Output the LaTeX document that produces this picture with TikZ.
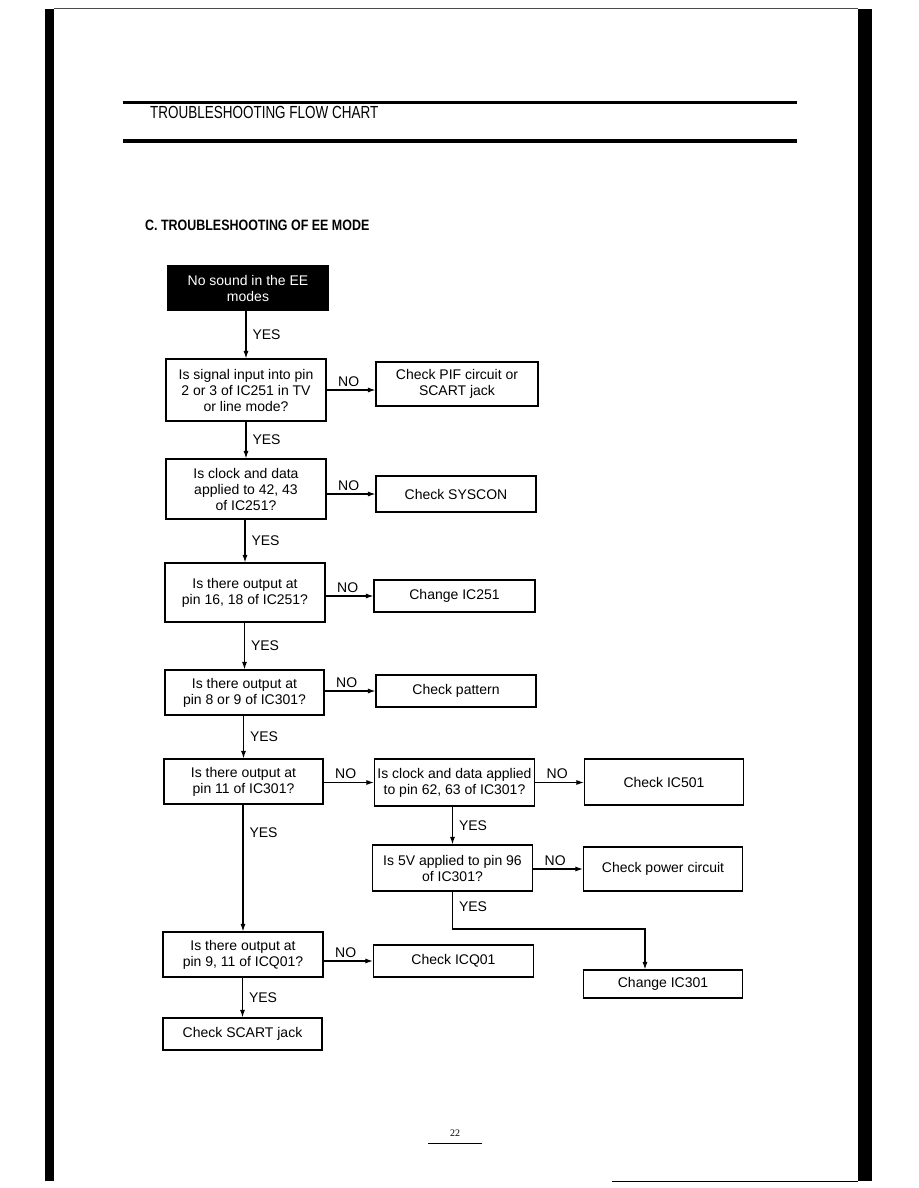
\documentclass[tikz,border=0pt]{standalone}
\usepackage{fontspec}
\setmainfont{Liberation Sans}
\newfontfamily\pagenumfont{Liberation Serif}
\usetikzlibrary{arrows.meta,calc}

\begin{document}
\begin{tikzpicture}[
  x=1pt, y=-1pt,
  box/.style={
    draw, rectangle, line width=1.2pt, minimum width=160pt, inner sep=0pt,
    align=center, font=\fontsize{14}{16}\selectfont
  },
  startbox/.style={box, fill=black, text=white},
  arrow/.style={->, >={Latex[length=7.5pt,width=5pt]}, line width=1.1pt},
  yes/.style={right, inner xsep=6pt, font=\fontsize{14}{16}\selectfont},
  no/.style={above right, pos=0, xshift=8pt, inner sep=3pt, font=\fontsize{14}{16}\selectfont}
]
\useasboundingbox (0,0) rectangle (918,1188);

% Page frame of the scan
\fill (45,9) rectangle (54,1181);
\fill (858,9) rectangle (872,1181);
\draw[line width=1pt, black!70] (54,9) -- (858,9);
\draw[line width=1pt] (612,1181) -- (858,1181);

% Header
\draw[line width=3pt] (123,103) -- (797,103);
\draw[line width=3.5pt] (123,141) -- (797,141);
\node[anchor=west, inner sep=0pt] (head) at (150,112)
  {\fontsize{17.5}{19}\selectfont\scalebox{0.77}[1]{TROUBLESHOOTING FLOW CHART}};

% Section title
\node[anchor=west, inner sep=0pt] (title) at (145,225)
  {\fontsize{15}{17}\selectfont\bfseries\scalebox{0.83}[1]{C. TROUBLESHOOTING OF EE MODE}};

% Main column
\node[startbox, minimum height=44pt] (start) at (248,288)
  {No sound in the EE\\modes};
\node[box, minimum height=62pt] (b1) at (246,390)
  {Is signal input into pin\\2 or 3 of IC251 in TV\\or line mode?};
\node[box, minimum height=60pt] (b2) at (246,489)
  {Is clock and data\\applied to 42, 43\\of IC251?};
\node[box, minimum height=59pt] (b3) at (245,592.5)
  {Is there output at\\pin 16, 18 of IC251?};
\node[box, minimum width=159pt, minimum height=45pt] (b4) at (244.5,692.5)
  {Is there output at\\pin 8 or 9 of IC301?};
\node[box, minimum width=159pt, minimum height=45pt] (b5) at (243.5,781.5)
  {Is there output at\\pin 11 of IC301?};
\node[box, minimum height=45pt] (b8) at (243,954.5)
  {Is there output at\\pin 9, 11 of ICQ01?};
\node[box, minimum width=159pt, minimum height=32pt] (n10) at (242.5,1034)
  {Check SCART jack};

% NO branches
\node[box, minimum width=162pt, minimum height=44pt] (n1) at (457,384)
  {Check PIF circuit or\\SCART jack};
\node[box, minimum height=36pt] (n2) at (456,494) {Check SYSCON};
\node[box, minimum width=161pt, minimum height=32pt] (n3) at (454.5,596) {Change IC251};
\node[box, minimum height=32pt] (n4) at (456,691) {Check pattern};
\node[box, minimum height=47pt] (b6) at (454.5,782.5)
  {Is clock and data applied\\to pin 62, 63 of IC301?};
\node[box, minimum height=46pt] (b7) at (452.5,868)
  {Is 5V applied to pin 96\\of IC301?};
\node[box, minimum height=32pt] (n9) at (453.5,961) {Check ICQ01};

% Right column
\node[box, minimum width=159pt, minimum height=46pt] (n6) at (664,782) {Check IC501};
\node[box, minimum width=159pt, minimum height=44pt] (n7) at (663,869) {Check power circuit};
\node[box, minimum width=159pt, minimum height=28pt] (n8) at (663,984) {Change IC301};
\coordinate (elbow) at (645,929);

% YES arrows
\draw[arrow] (start.south -| b1.north) -- (b1.north) node[midway, yes] {YES};
\draw[arrow] (b1.south) -- (b2.north) node[midway, yes] {YES};
\draw[arrow] (b2.south -| b3.north) -- (b3.north) node[midway, yes] {YES};
\draw[arrow] (b3.south -| b4.north) -- (b4.north) node[midway, yes] {YES};
\draw[arrow] (b4.south -| b5.north) -- (b5.north) node[midway, yes] {YES};
\draw[arrow] (b5.south -| b8.north) -- (b8.north) node[pos=0.22, yes] {YES};
\draw[arrow] (b8.south -| n10.north) -- (n10.north) node[midway, yes] {YES};
\draw[arrow] (b6.south -| b7.north) -- (b7.north) node[midway, yes] {YES};
\draw[arrow] (b7.south) |- (elbow) node[pos=0.2, yes] {YES} -- (elbow |- n8.north);

% NO arrows
\draw[arrow] (b1.east) -- (b1.east -| n1.west) node[no] {NO};
\draw[arrow] (n2.west -| b2.east) -- (n2.west) node[no] {NO};
\draw[arrow] (n3.west -| b3.east) -- (n3.west) node[no] {NO};
\draw[arrow] (n4.west -| b4.east) -- (n4.west) node[no] {NO};
\draw[arrow] (b6.west -| b5.east) -- (b6.west) node[no] {NO};
\draw[arrow] (b6.east) -- (b6.east -| n6.west) node[no] {NO};
\draw[arrow] (n7.west -| b7.east) -- (n7.west) node[no] {NO};
\draw[arrow] (n9.west -| b8.east) -- (n9.west) node[no] {NO};

% Page number
\node[inner sep=0pt, font=\pagenumfont\fontsize{10}{12}\selectfont] (pagenum) at (455,1133) {22};
\draw[line width=0.8pt] (428,1143) -- (482,1143);

\end{tikzpicture}
\end{document}
